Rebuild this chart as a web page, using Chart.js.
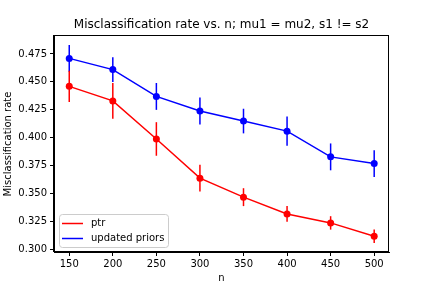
<!DOCTYPE html>
<html>
<head>
<meta charset="utf-8">
<script src="https://cdn.jsdelivr.net/npm/chart.js@4.4.0/dist/chart.umd.min.js"></script>
<style>
  body { margin: 0; background: #fff; }
  #wrap { width: 432px; height: 288px; }
</style>
</head>
<body>
<div id="wrap"><canvas id="lineChart" width="432" height="288"></canvas></div>
<script>
var nValues = [150, 200, 250, 300, 350, 400, 450, 500];
var ptrRate = [0.446, 0.433, 0.399, 0.364, 0.347, 0.332, 0.324, 0.312];
var ptrErr = [0.014, 0.016, 0.015, 0.012, 0.008, 0.007, 0.006, 0.006];
var priorsRate = [0.471, 0.461, 0.437, 0.424, 0.415, 0.406, 0.383, 0.377];
var priorsErr = [0.012, 0.011, 0.012, 0.012, 0.011, 0.013, 0.012, 0.012];
var xTicks = [150, 200, 250, 300, 350, 400, 450, 500];
var yTicks = [0.300, 0.325, 0.350, 0.375, 0.400, 0.425, 0.450, 0.475];

var FONT = "'DejaVu Sans', sans-serif";

function points(ys) {
  return nValues.map(function (x, i) { return { x: x, y: ys[i] }; });
}

var errors = [ptrErr, priorsErr];

// error bars, frame, title and legend
var extras = {
  id: 'extras',
  beforeDatasetsDraw: function (chart) {
    var a = chart.chartArea, ctx = chart.ctx;
    ctx.save();
    ctx.strokeStyle = '#000';
    ctx.lineWidth = 1;
    ctx.strokeRect(Math.round(a.left) - 0.5, Math.round(a.top) - 0.5,
      Math.round(a.right - a.left), Math.round(a.bottom - a.top));
    ctx.restore();
  },
  beforeDatasetDraw: function (chart, args) {
    var ds = chart.data.datasets[args.index];
    var err = errors[args.index];
    var xs = chart.scales.x, ys = chart.scales.y, ctx = chart.ctx;
    ctx.save();
    ctx.strokeStyle = ds.borderColor;
    ctx.lineWidth = 1.5;
    ds.data.forEach(function (p, i) {
      var px = xs.getPixelForValue(p.x);
      ctx.beginPath();
      ctx.moveTo(px, ys.getPixelForValue(p.y - err[i]));
      ctx.lineTo(px, ys.getPixelForValue(p.y + err[i]));
      ctx.stroke();
    });
    ctx.restore();
  },
  afterDraw: function (chart) {
    var a = chart.chartArea, ctx = chart.ctx;
    ctx.save();
    ctx.fillStyle = '#000';
    ctx.font = '12px ' + FONT;
    ctx.textAlign = 'center';
    ctx.textBaseline = 'alphabetic';
    ctx.fillText('Misclassification rate vs. n; mu1 = mu2, s1 != s2', (a.left + a.right) / 2, 28);

    // legend
    var lx = a.left + 5, ly = a.bottom - 38, lw = 109, lh = 33;
    ctx.fillStyle = 'rgba(255,255,255,0.8)';
    ctx.strokeStyle = '#cccccc';
    ctx.lineWidth = 1;
    ctx.beginPath();
    ctx.roundRect(lx + 0.5, ly + 0.5, lw, lh, 3);
    ctx.fill();
    ctx.stroke();
    ctx.font = '10px ' + FONT;
    ctx.textAlign = 'left';
    ctx.textBaseline = 'middle';
    chart.data.datasets.forEach(function (ds, i) {
      var yy = ly + 9.5 + i * 15;
      ctx.strokeStyle = ds.borderColor;
      ctx.lineWidth = 1.5;
      ctx.beginPath();
      ctx.moveTo(lx + 3, yy);
      ctx.lineTo(lx + 24, yy);
      ctx.stroke();
      ctx.fillStyle = '#000';
      ctx.fillText(ds.label, lx + 32, yy);
    });
    ctx.restore();
  }
};

var ctxL = document.getElementById("lineChart").getContext('2d');
var myChart = new Chart(ctxL, {
  type: 'scatter',
  data: {
    datasets: [
      {
        label: 'ptr',
        data: points(ptrRate),
        showLine: true,
        borderColor: '#ff0000',
        backgroundColor: '#ff0000',
        borderWidth: 1.5,
        pointRadius: 3.5,
        pointBorderWidth: 0,
        pointHoverRadius: 3.5
      },
      {
        label: 'updated priors',
        data: points(priorsRate),
        showLine: true,
        borderColor: '#0000ff',
        backgroundColor: '#0000ff',
        borderWidth: 1.5,
        pointRadius: 3.5,
        pointBorderWidth: 0,
        pointHoverRadius: 3.5
      }
    ]
  },
  options: {
    responsive: false,
    animation: false,
    events: [],
    layout: { padding: { top: 36, right: 43, left: 0, bottom: 0 } },
    plugins: {
      legend: { display: false },
      title: { display: false },
      tooltip: { enabled: false }
    },
    scales: {
      x: {
        type: 'linear',
        min: 132.5,
        max: 517,
        afterBuildTicks: function (scale) {
          scale.ticks = xTicks.map(function (v) { return { value: v }; });
        },
        afterFit: function (scale) { scale.height = 36; },
        ticks: { color: '#000', font: { family: FONT, size: 10 }, padding: 2, maxRotation: 0 },
        grid: { drawOnChartArea: false, tickLength: 4, color: '#000' },
        border: { color: '#000' },
        title: { display: true, text: 'n', color: '#000', font: { family: FONT, size: 10 }, padding: { top: 4, bottom: 4 } }
      },
      y: {
        min: 0.298,
        max: 0.491,
        afterBuildTicks: function (scale) {
          scale.ticks = yTicks.map(function (v) { return { value: v }; });
        },
        afterFit: function (scale) { scale.width = 54; },
        ticks: {
          color: '#000', font: { family: FONT, size: 10 }, padding: 3,
          callback: function (v) { return v.toFixed(3); }
        },
        grid: { drawOnChartArea: false, tickLength: 4, color: '#000' },
        border: { color: '#000' },
        title: { display: true, text: 'Misclassification rate', color: '#000', font: { family: FONT, size: 10 }, padding: { top: 2, bottom: 2 } }
      }
    }
  },
  plugins: [extras]
});
</script>
</body>
</html>
